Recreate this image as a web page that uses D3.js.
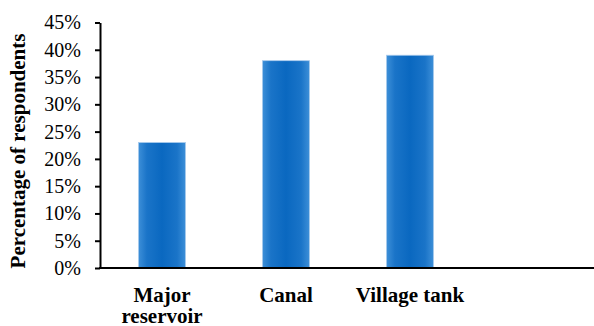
<!DOCTYPE html>
<html>
<head>
<meta charset="utf-8">
<script src="https://cdn.jsdelivr.net/npm/d3@7"></script>
</head>
<body style="margin:0;background:#fff">
<svg id="chart" width="594" height="326" style="display:block;font-family:'Liberation Serif'"></svg>
<script>
// Water source used, share of respondents
const categories = ["Major reservoir", "Canal", "Village tank"];
const values = [23, 38, 39];
const yTicks = [0, 5, 10, 15, 20, 25, 30, 35, 40, 45];
const yTitle = "Percentage of respondents";

const FONT = "\"Liberation Serif\"";
const svg = d3.select("#chart");
const plot = { left: 100, right: 594, top: 22.5, bottom: 268 };

const x = d3.scaleBand()
  .domain(categories)
  .range([plot.left, plot.left + 124 * categories.length])
  .paddingInner(0.62)
  .paddingOuter(0.31);

const y = d3.scaleLinear()
  .domain([0, 45])
  .range([plot.bottom, plot.top]);

// bar fill: darker centre, softer edges
const defs = svg.append("defs");
const grad = defs.append("linearGradient").attr("id", "barFill")
  .attr("x1", "0%").attr("x2", "100%").attr("y1", "0%").attr("y2", "0%");
[[0, "#3d8fd8"], [0.18, "#1a74c8"], [0.5, "#0a68c0"], [0.82, "#1a74c8"], [1, "#3d8fd8"]]
  .forEach(([o, c]) => grad.append("stop").attr("offset", o).attr("stop-color", c));

svg.append("g")
  .selectAll("rect")
  .data(values)
  .join("rect")
  .attr("x", (d, i) => x(categories[i]))
  .attr("y", d => y(d))
  .attr("width", x.bandwidth())
  .attr("height", d => y(0) - y(d))
  .attr("fill", "url(#barFill)")
  .attr("stroke", "#a9cbed")
  .attr("stroke-width", 0.8);

// y axis
const yAxis = svg.append("g")
  .attr("transform", `translate(${plot.left},0)`)
  .call(d3.axisLeft(y).tickValues(yTicks).tickFormat(d => d + "%").tickSize(5).tickSizeOuter(0));
yAxis.attr("font-family", null);
yAxis.select(".domain").attr("stroke", "#000").attr("stroke-width", 2);
yAxis.selectAll(".tick line").attr("stroke", "#000").attr("stroke-width", 2);
yAxis.selectAll(".tick text")
  .attr("x", -19)
  .attr("fill", "#000")
  .style("font-family", FONT)
  .style("font-size", "20px");

// x baseline across the plot
svg.append("line")
  .attr("x1", plot.left - 1).attr("x2", plot.right)
  .attr("y1", y(0)).attr("y2", y(0))
  .attr("stroke", "#000").attr("stroke-width", 2.2);

// category labels, wrapped where long
const labelLines = { "Major reservoir": ["Major", "reservoir"] };
categories.forEach(c => {
  const lines = labelLines[c] || [c];
  const cx = x(c) + x.bandwidth() / 2;
  const t = svg.append("text")
    .attr("x", cx)
    .attr("y", 301.5)
    .attr("text-anchor", "middle")
    .attr("fill", "#000")
    .style("font-family", FONT)
    .style("font-weight", "bold")
    .style("font-size", "21px");
  lines.forEach((ln, i) => {
    t.append("tspan")
      .attr("x", cx)
      .attr("dy", i === 0 ? 0 : 21.5)
      .text(ln);
  });
});

// y axis title
svg.append("text")
  .attr("transform", `translate(24.5,151) rotate(-90)`)
  .attr("text-anchor", "middle")
  .attr("fill", "#000")
  .style("font-family", FONT)
  .style("font-weight", "bold")
  .style("font-size", "21px")
  .text(yTitle);
</script>
</body>
</html>
